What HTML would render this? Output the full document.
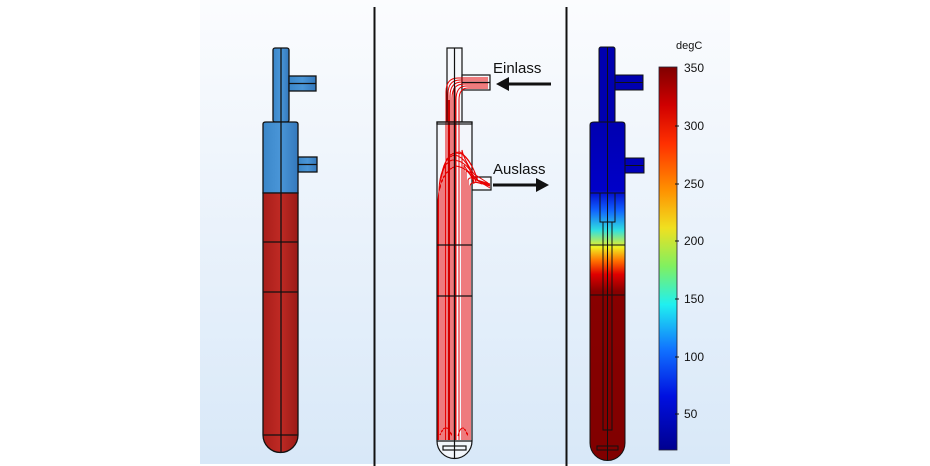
<!DOCTYPE html>
<html><head><style>
html,body{margin:0;padding:0;background:#fff}
svg{display:block}
text{font-family:"Liberation Sans",sans-serif}
</style></head><body>
<svg width="930" height="466" viewBox="0 0 930 466" xmlns="http://www.w3.org/2000/svg">
<defs>
<linearGradient id="bg" x1="0" y1="0" x2="0" y2="1">
<stop offset="0" stop-color="#fbfcfe"/><stop offset="1" stop-color="#d8e8f8"/>
</linearGradient>
<linearGradient id="red1" x1="0" y1="0" x2="1" y2="0">
<stop offset="0" stop-color="#a81e1a"/><stop offset="0.5" stop-color="#bf2a24"/><stop offset="1" stop-color="#9a1a16"/>
</linearGradient>
<linearGradient id="blue1" x1="0" y1="0" x2="1" y2="0">
<stop offset="0" stop-color="#3a86c8"/><stop offset="0.5" stop-color="#4a96d8"/><stop offset="1" stop-color="#3478bc"/>
</linearGradient>
<linearGradient id="temp" x1="0" y1="0" x2="0" y2="1">
<stop offset="0" stop-color="#0000b0"/>
<stop offset="0.2" stop-color="#0000c8"/>
<stop offset="0.26" stop-color="#1060ff"/>
<stop offset="0.32" stop-color="#30e0e0"/>
<stop offset="0.37" stop-color="#f0f020"/>
<stop offset="0.41" stop-color="#ff7000"/>
<stop offset="0.45" stop-color="#e00000"/>
<stop offset="0.5" stop-color="#880000"/>
<stop offset="1" stop-color="#800000"/>
</linearGradient>
<linearGradient id="cbar" x1="0" y1="0" x2="0" y2="1">
<stop offset="0" stop-color="#800000"/>
<stop offset="0.1" stop-color="#d00000"/>
<stop offset="0.2" stop-color="#ff3000"/>
<stop offset="0.32" stop-color="#ff9000"/>
<stop offset="0.42" stop-color="#f0e020"/>
<stop offset="0.52" stop-color="#80f060"/>
<stop offset="0.62" stop-color="#20f0f0"/>
<stop offset="0.74" stop-color="#1070ff"/>
<stop offset="0.86" stop-color="#0010e0"/>
<stop offset="1" stop-color="#000090"/>
</linearGradient>
</defs>
<rect x="200" y="0" width="530" height="464" fill="url(#bg)"/>
<line x1="374.5" y1="7" x2="374.5" y2="466" stroke="#111" stroke-width="2"/>
<line x1="566.5" y1="7" x2="566.5" y2="466" stroke="#111" stroke-width="2"/>

<!-- Panel 1 -->
<g stroke="#111" stroke-width="1.3">
<rect x="273" y="48" width="16" height="74" rx="2" fill="url(#blue1)"/>
<rect x="289" y="76" width="27" height="15" fill="url(#blue1)"/>
<line x1="289" y1="83.5" x2="316" y2="83.5"/>
<rect x="298" y="157" width="19" height="15" fill="url(#blue1)"/>
<line x1="298" y1="164.5" x2="317" y2="164.5"/>
<path d="M263 124 Q263 122 266 122 H295 Q298 122 298 124 V193 H263 Z" fill="url(#blue1)"/>
<path d="M263 193 H298 V435 A17.5 17.5 0 0 1 263 435 Z" fill="url(#red1)"/>
<line x1="263" y1="242" x2="298" y2="242"/>
<line x1="263" y1="292" x2="298" y2="292"/>
<line x1="263" y1="435" x2="298" y2="435"/>
<line x1="281" y1="48" x2="281" y2="452"/>
</g>

<!-- Panel 2 -->
<g stroke="#111" stroke-width="1.2" fill="none">
<rect x="447" y="48" width="15" height="74" fill="#f6f8fc"/>
<rect x="462" y="75" width="28" height="15" fill="#f6f8fc"/>
<rect x="472" y="177" width="19" height="13" fill="#f6f8fc"/>
<path d="M437 122 H472 V441 A17.5 17.5 0 0 1 437 441 Z" fill="#f3f6fb"/>
</g>
<g stroke="#e80000" stroke-width="1" fill="none">
<path fill="none" d="M446 440 V92 Q446 78 458 78 H488"/>
<path fill="none" d="M448 440 V94 Q448 80 460 80 H488"/>
<path fill="none" d="M450 440 V96 Q450 82 462 82 H488"/>
<path fill="none" d="M452 440 V98 Q452 84 464 84 H488"/>
<path fill="none" d="M456 440 V100 Q456 86 466 86 H488"/>
<path fill="none" d="M459 440 V100 Q459 88 468 88 H488"/>
<path fill="none" d="M439 440 V190 Q440 165 452 160 Q468 160 476 182 L490 186"/>
<path fill="none" d="M441 440 V180 Q443 157 455 155 Q468 158 474 182"/>
<path fill="none" d="M443 440 V172 Q446 152 460 152 Q472 160 477 180 L490 184"/>
<path fill="none" d="M445 440 V165 Q448 150 462 154 Q472 162 478 181"/>
<path fill="none" d="M462 440 V150 Q464 160 474 174 L488 183"/>
<path fill="none" d="M464 440 V165 Q466 170 476 180 L490 185"/>
<path fill="none" d="M466 440 V172 Q468 168 478 181 L490 186"/>
<path fill="none" d="M468 440 V180 Q470 175 480 182 L490 188"/>
<path fill="none" d="M470 440 V186 Q471 180 482 184"/>
<path fill="none" d="M438 440 V200 Q440 172 456 166 Q470 168 474 184"/>
<path fill="none" d="M440 435 Q446 420 452 436"/>
<path fill="none" d="M458 436 Q462 420 468 436"/>
</g>
<g stroke="#cc0000" stroke-width="2.2"><line x1="454.5" y1="88" x2="454.5" y2="440"/><line x1="449" y1="100" x2="449" y2="440"/></g>
<g stroke="#111" stroke-width="1.2" fill="none">
<line x1="462" y1="82.5" x2="490" y2="82.5"/>
<line x1="454.5" y1="48" x2="454.5" y2="459"/>
<line x1="437" y1="245" x2="472" y2="245"/>
<line x1="437" y1="296" x2="472" y2="296"/>
<line x1="437" y1="441" x2="472" y2="441"/>
<rect x="443" y="446" width="23" height="4"/>
<rect x="437" y="122" width="35" height="2"/>
</g>
<text x="493" y="73" font-size="15" fill="#111">Einlass</text>
<line x1="551" y1="84" x2="506" y2="84" stroke="#111" stroke-width="3"/>
<polygon points="496,84 509,77 509,91" fill="#111"/>
<text x="493" y="174" font-size="15" fill="#111">Auslass</text>
<line x1="493" y1="185" x2="538" y2="185" stroke="#111" stroke-width="3"/>
<polygon points="549,185 536,178 536,192" fill="#111"/>

<!-- Panel 3 -->
<g stroke="#111" stroke-width="1">
<rect x="599" y="47" width="16" height="76" rx="2" fill="#0000b0"/>
<rect x="615" y="75" width="28" height="15" fill="#0000b0"/>
<line x1="615" y1="82.5" x2="643" y2="82.5"/>
<rect x="625" y="158" width="19" height="15" fill="#0000b8"/>
<line x1="625" y1="165.5" x2="644" y2="165.5"/>
<path d="M590 125 Q590 122 594 122 H622 Q625 122 625 125 V443 A17.5 17.5 0 0 1 590 443 Z" fill="url(#temp)"/>
<line x1="590" y1="193" x2="625" y2="193"/>
<line x1="590" y1="245" x2="625" y2="245"/>
<line x1="590" y1="295" x2="625" y2="295"/>
<rect x="600" y="193" width="15" height="29" fill="none"/>
<rect x="603" y="222" width="9" height="208" fill="none"/>
<rect x="597" y="446" width="21" height="4" fill="none"/>
<line x1="607.5" y1="47" x2="607.5" y2="460"/>
</g>
<text x="676" y="49" font-size="11" fill="#111">degC</text>
<rect x="659" y="67" width="18" height="383" fill="url(#cbar)" stroke="#223" stroke-width="0.8"/>
<g font-size="12" fill="#111">
<text x="684" y="72">350</text>
<text x="684" y="130">300</text>
<text x="684" y="188">250</text>
<text x="684" y="245">200</text>
<text x="684" y="303">150</text>
<text x="684" y="361">100</text>
<text x="684" y="418">50</text>
</g>
<g stroke="#111" stroke-width="1">
<line x1="675" y1="126" x2="679" y2="126"/><line x1="675" y1="184" x2="679" y2="184"/>
<line x1="675" y1="241" x2="679" y2="241"/><line x1="675" y1="299" x2="679" y2="299"/>
<line x1="675" y1="357" x2="679" y2="357"/><line x1="675" y1="414" x2="679" y2="414"/>
</g>
</svg>
</body></html>
